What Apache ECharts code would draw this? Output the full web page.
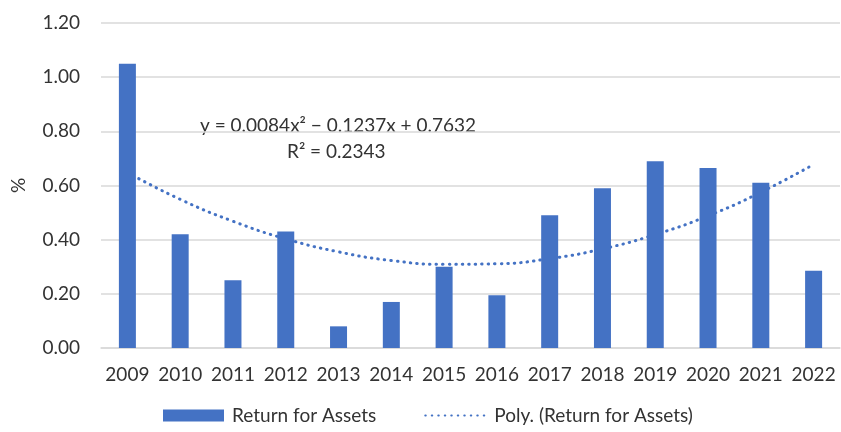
<!DOCTYPE html>
<head>
    <meta charset="utf-8">
    <title>Return for Assets</title>
    <script src="https://cdn.jsdelivr.net/npm/echarts@6/dist/echarts.min.js"></script>
    <style>
        html, body { margin: 0; padding: 0; background: #fff; }
        #chart { width: 841px; height: 432px; }
    </style>
</head>
<body>
<div id="chart"></div>
<script>
    var years = ['2009', '2010', '2011', '2012', '2013', '2014', '2015', '2016', '2017', '2018', '2019', '2020', '2021', '2022'];
    var roa = [1.05, 0.42, 0.25, 0.43, 0.08, 0.17, 0.30, 0.195, 0.49, 0.59, 0.69, 0.665, 0.61, 0.285];
    // dotted trend line at each year
    var trend = [0.648, 0.549, 0.468, 0.403, 0.355, 0.323, 0.309, 0.311, 0.330, 0.366, 0.419, 0.488, 0.575, 0.678];
    var yTicks = { min: 0, max: 1.2, step: 0.2 };
    var eqLine1 = 'y = 0.0084x² \u2212 0.1237x + 0.7632';
    var eqLine2 = 'R² = 0.2343';

    var font = 'Lato, "Liberation Sans", sans-serif';
    var textColor = '#333333';
    var blue = '#4472C4';

    var chart = echarts.init(document.getElementById('chart'));
    chart.setOption({
        animation: false,
        textStyle: { fontFamily: font },
        grid: { left: 101, right: 1, top: 23, bottom: 84 },
        legend: {
            left: 158,
            bottom: 2,
            itemGap: 48,
            itemWidth: 61,
            itemHeight: 12,
            textStyle: { fontFamily: font, fontSize: 19, color: textColor, padding: [0, 0, 0, 3] },
            data: [
                { name: 'Return for Assets', icon: 'rect' },
                { name: 'Poly. (Return for Assets)', itemStyle: { opacity: 0 } }
            ]
        },
        xAxis: {
            type: 'category',
            data: years,
            axisLine: { lineStyle: { color: '#d9d9d9', width: 1.5 } },
            axisTick: { show: false },
            axisLabel: { fontFamily: font, fontSize: 19, color: textColor, margin: 17, interval: 0 }
        },
        yAxis: {
            type: 'value',
            min: yTicks.min,
            max: yTicks.max,
            interval: yTicks.step,
            name: '%',
            nameLocation: 'middle',
            nameGap: 73,
            nameRotate: 90,
            nameTextStyle: { fontFamily: font, fontSize: 19, color: textColor },
            axisLine: { show: false },
            axisTick: { show: false },
            splitLine: { lineStyle: { color: '#d9d9d9', width: 1.5 } },
            axisLabel: {
                fontFamily: font, fontSize: 19, color: textColor, margin: 21,
                formatter: function (v) { return v.toFixed(2); }
            }
        },
        series: [
            {
                name: 'Return for Assets',
                type: 'bar',
                data: roa,
                barWidth: 17,
                z: 3,
                itemStyle: { color: blue }
            },
            {
                name: 'Poly. (Return for Assets)',
                type: 'line',
                data: trend,
                smooth: true,
                symbol: 'none',
                z: 1,
                itemStyle: { color: blue },
                lineStyle: { color: blue, width: 3, type: [0.5, 6], cap: 'round' }
            }
        ],
        graphic: [
            {
                type: 'text', left: 200, top: 116,
                style: { text: eqLine1, fontFamily: font, fontSize: 19, fill: textColor }
            },
            {
                type: 'text', left: 287, top: 142,
                style: { text: eqLine2, fontFamily: font, fontSize: 19, fill: textColor }
            }
        ]
    });
</script>
</body>
